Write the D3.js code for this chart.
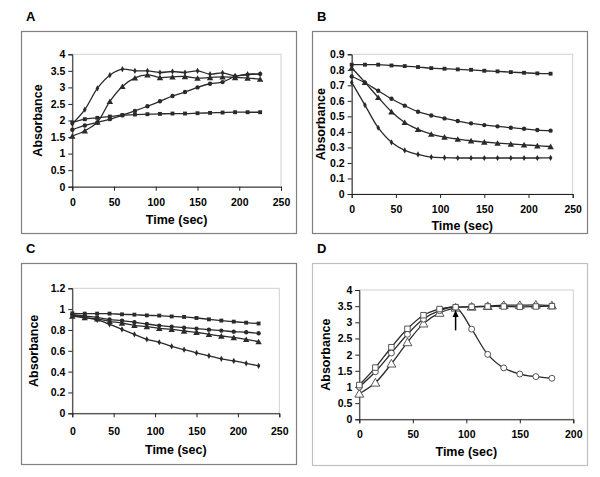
<!DOCTYPE html>
<html><head><meta charset="utf-8">
<script src="https://cdn.jsdelivr.net/npm/d3@7/dist/d3.min.js"></script>
<style>body{margin:0;background:#fff}text{font-family:"Liberation Sans",Arial,sans-serif;font-weight:bold;fill:#000}</style>
</head><body>
<svg id="chart" width="600" height="477"></svg>
<script>
// ---------- data ----------
const timeABC = [0,15,30,45,60,75,90,105,120,135,150,165,180,195,210,225];
const timeD = [0,15,30,45,60,75,90,105,120,135,150,165,180];

const aDiamond  = [1.90,2.33,2.97,3.37,3.55,3.50,3.50,3.45,3.48,3.45,3.50,3.40,3.44,3.35,3.40,3.40];
const aTriangle = [1.53,1.69,1.95,2.58,3.03,3.29,3.38,3.30,3.32,3.33,3.28,3.30,3.32,3.30,3.28,3.25];
const aCircle   = [1.72,1.85,1.94,2.04,2.16,2.29,2.43,2.58,2.74,2.86,3.00,3.11,3.16,3.33,3.38,3.41];
const aSquare   = [1.94,2.04,2.08,2.12,2.16,2.18,2.19,2.20,2.21,2.21,2.22,2.23,2.24,2.25,2.25,2.25];

const bSquare   = [0.833,0.833,0.833,0.828,0.824,0.818,0.811,0.807,0.803,0.800,0.794,0.790,0.785,0.781,0.777,0.775];
const bCircle   = [0.757,0.717,0.665,0.614,0.569,0.530,0.506,0.487,0.470,0.455,0.444,0.436,0.427,0.420,0.412,0.408];
const bTriangle = [0.813,0.719,0.622,0.530,0.461,0.416,0.386,0.367,0.354,0.343,0.335,0.328,0.322,0.317,0.311,0.306];
const bDiamond  = [0.719,0.573,0.427,0.333,0.281,0.255,0.238,0.234,0.232,0.232,0.232,0.232,0.232,0.232,0.232,0.233];

const cSquare   = [0.960,0.957,0.957,0.957,0.950,0.947,0.940,0.938,0.930,0.925,0.915,0.902,0.890,0.880,0.870,0.862];
const cCircle   = [0.947,0.934,0.920,0.900,0.890,0.874,0.858,0.842,0.832,0.822,0.813,0.803,0.794,0.784,0.778,0.768];
const cTriangle = [0.934,0.918,0.906,0.883,0.867,0.845,0.832,0.816,0.806,0.790,0.778,0.758,0.742,0.728,0.710,0.688];
const cDiamond  = [0.947,0.920,0.896,0.854,0.806,0.758,0.710,0.682,0.643,0.611,0.580,0.552,0.523,0.503,0.480,0.456];

const dSquare   = [1.06,1.60,2.23,2.80,3.22,3.41,3.47,3.48,3.49,3.49,3.48,3.49,3.50];
const dCircle   = [1.00,1.47,2.05,2.63,3.10,3.36,3.46,2.79,2.01,1.59,1.40,1.32,1.27];
const dTriangle = [0.79,1.13,1.72,2.38,2.96,3.29,3.45,3.48,3.50,3.53,3.53,3.54,3.52];

const arrowTime = 90, arrowFrom = 2.75, arrowTo = 3.38;

const ticksA = [0,0.5,1,1.5,2,2.5,3,3.5,4];
const ticksB = [0,0.1,0.2,0.3,0.4,0.5,0.6,0.7,0.8,0.9];
const ticksC = [0,0.2,0.4,0.6,0.8,1,1.2];
const ticksD = [0,0.5,1,1.5,2,2.5,3,3.5,4];
const xTicksABC = [0,50,100,150,200,250];
const xTicksD = [0,50,100,150,200];

// ---------- layout ----------
const svg = d3.select("#chart");
const panels = [
  {label:"A", frame:[21,31,296,233], plot:[72.3,54.3,281,186.7], xmax:250, ymax:4, yt:ticksA, xt:xTicksABC, t:timeABC,
   series:[[aDiamond,"diamond"],[aTriangle,"triangle"],[aCircle,"circle"],[aSquare,"square"]], open:false, frameCol:"#808080",
   xlabY:206, titleY:224, ytitleX:42},
  {label:"B", frame:[312,31,587,233], plot:[351.7,54.3,572.7,194], xmax:250, ymax:0.9, yt:ticksB, xt:xTicksABC, t:timeABC,
   series:[[bSquare,"square"],[bCircle,"circle"],[bTriangle,"triangle"],[bDiamond,"diamond"]], open:false, frameCol:"#808080",
   xlabY:212.5, titleY:230, ytitleX:325},
  {label:"C", frame:[21,263,296,464], plot:[72.3,288.3,279.3,413.3], xmax:250, ymax:1.2, yt:ticksC, xt:xTicksABC, t:timeABC,
   series:[[cSquare,"square"],[cCircle,"circle"],[cTriangle,"triangle"],[cDiamond,"diamond"]], open:false, frameCol:"#808080",
   xlabY:435.5, titleY:454, ytitleX:38},
  {label:"D", frame:[312,263,587,465], plot:[359.3,290,573.3,419.3], xmax:200, ymax:4, yt:ticksD, xt:xTicksD, t:timeD,
   series:[[dTriangle,"triangle"],[dCircle,"circle"],[dSquare,"square"]], open:true, frameCol:"#c0c0c0",
   xlabY:438.5, titleY:456, ytitleX:330}
];

const symType = {square:d3.symbolSquare, circle:d3.symbolCircle, triangle:d3.symbolTriangle, diamond:d3.symbolDiamond};

panels.forEach(p => {
  const g = svg.append("g");
  const [fx0,fy0,fx1,fy1] = p.frame;
  g.append("rect").attr("x",fx0+0.5).attr("y",fy0+0.5).attr("width",fx1-fx0).attr("height",fy1-fy0)
    .attr("fill","#fff").attr("stroke",p.frameCol).attr("stroke-width",1.2);
  g.append("text").attr("x",fx0+5).attr("y",fy0-10).attr("font-size",13).text(p.label);

  const [px0,py0,px1,py1] = p.plot;
  const x = d3.scaleLinear().domain([0,p.xmax]).range([px0,px1]);
  const y = d3.scaleLinear().domain([0,p.ymax]).range([py1,py0]);

  // plot-area border (light)
  g.append("rect").attr("x",px0).attr("y",py0).attr("width",px1-px0).attr("height",py1-py0)
    .attr("fill","none").attr("stroke","#d0d0d0").attr("stroke-width",1);

  // axes
  const yAxis = d3.axisLeft(y).tickValues(p.yt).tickSize(4).tickPadding(3).tickFormat(d3.format("~g"));
  const xAxis = d3.axisBottom(x).tickValues(p.xt).tickSize(4).tickPadding(5).tickFormat(d3.format("d"));
  const ya = g.append("g").attr("transform",`translate(${px0},0)`).call(yAxis);
  const xa = g.append("g").attr("transform",`translate(0,${py1})`).call(xAxis);
  [ya,xa].forEach(a => {
    a.select(".domain").attr("stroke","#222");
    a.selectAll(".tick line").attr("stroke","#222");
    a.selectAll("text").attr("font-size",10.5).attr("font-family","Liberation Sans, Arial, sans-serif").attr("font-weight","bold").attr("fill","#000");
  });
  xa.selectAll(".tick text").attr("y",p.xlabY - py1).attr("dy","0");

  g.append("text").attr("x",(px0+px1)/2).attr("y",p.titleY).attr("text-anchor","middle").attr("font-size",12.5).text("Time (sec)");
  g.append("text").attr("transform",`translate(${p.ytitleX},${(py0+py1)/2}) rotate(-90)`)
    .attr("text-anchor","middle").attr("font-size",12.5).text("Absorbance");

  const line = d3.line().x((d,i)=>x(p.t[i])).y(d=>y(d)).curve(d3.curveCatmullRom.alpha(0.5));
  p.series.forEach(([vals,shape]) => {
    g.append("path").attr("d",line(vals)).attr("fill","none").attr("stroke","#2a2a2a").attr("stroke-width",1.3);
  });
  p.series.forEach(([vals,shape]) => {
    const sz = p.open ? (shape==="triangle"?34:shape==="circle"?28:30) : (shape==="triangle"?18:shape==="diamond"?11:shape==="circle"?15:15);
    const sym = d3.symbol().type(symType[shape]).size(sz);
    g.selectAll(null).data(vals).enter().append("path")
      .attr("d",sym)
      .attr("transform",(d,i)=>`translate(${x(p.t[i])},${y(d) + (shape==="triangle"?0.8:0)})`)
      .attr("fill",p.open?"#fff":"#2a2a2a")
      .attr("stroke",p.open?"#444":"none").attr("stroke-width",0.9);
  });

  if (p.label==="D") {
    const ax = x(arrowTime);
    g.append("line").attr("x1",ax).attr("x2",ax).attr("y1",y(arrowFrom)).attr("y2",y(arrowTo)+4)
      .attr("stroke","#000").attr("stroke-width",1.5);
    g.append("path").attr("d",`M${ax},${y(arrowTo)} l-3,7 l6,0 z`).attr("fill","#000");
  }
});
</script>
</body></html>
